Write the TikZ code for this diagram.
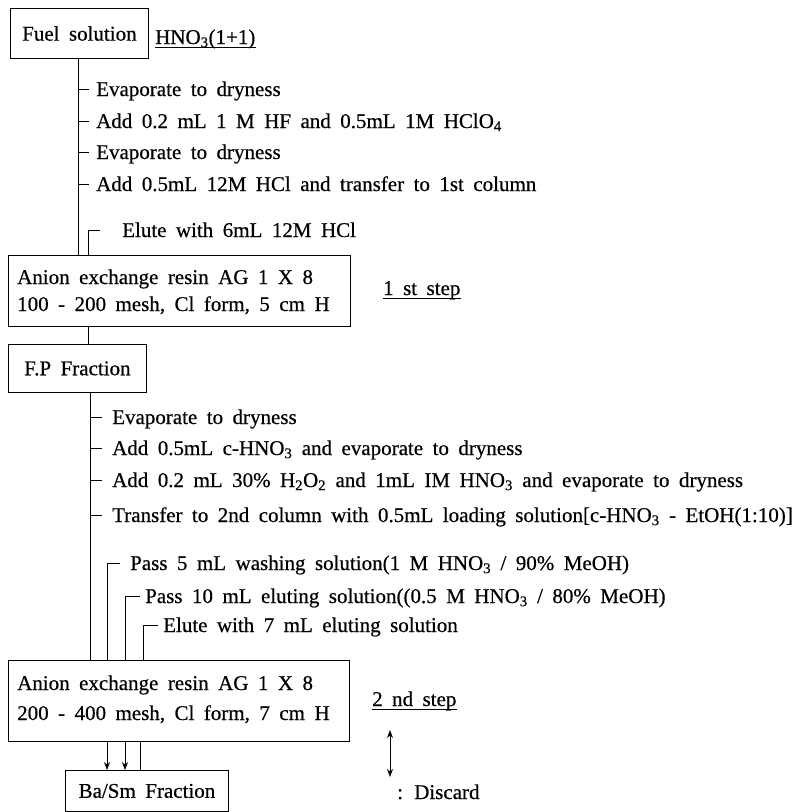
\documentclass[tikz,border=0pt]{standalone}
\usepackage{fontspec}
\setmainfont{Liberation Serif}[WordSpace=1.8,FakeBold=0.5]
\usetikzlibrary{arrows.meta}
\newcommand{\sbs}[1]{\textsubscript{#1}}
\begin{document}
\begin{tikzpicture}[x=1pt,y=-1pt,
  every node/.style={font=\fontsize{21}{27}\selectfont},
  box/.style={draw,line width=0.9pt,inner sep=0pt},
  lbl/.style={anchor=base west,inner sep=0pt},
  ln/.style={line width=0.9pt},
  arr/.style={line width=0.9pt,-{Stealth[length=8pt,width=6pt]}},
  darr/.style={line width=0.9pt,{Stealth[length=8pt,width=6pt]}-{Stealth[length=8pt,width=6pt]}}]
\useasboundingbox (0,0) rectangle (795,812);

% boxes
\node[box,anchor=north west,minimum width=138pt,minimum height=50pt] (fuel) at (10,8) {Fuel solution};
\node[box,anchor=north west,minimum width=342pt,minimum height=71pt] (col1) at (8,255) {};
\node[lbl] (col1a) at (17,284) {Anion exchange resin AG 1 X 8};
\node[lbl] (col1b) at (17,311) {100 - 200 mesh, Cl form, 5 cm H};
\node[box,anchor=north west,minimum width=138pt,minimum height=48pt] (fp) at (8,344) {F.P Fraction};
\node[box,anchor=north west,minimum width=341pt,minimum height=81pt] (col2) at (8,660) {};
\node[lbl] (col2a) at (17,690) {Anion exchange resin AG 1 X 8};
\node[lbl] (col2b) at (17,720) {200 - 400 mesh, Cl form, 7 cm H};
\node[box,anchor=north west,minimum width=163pt,minimum height=41pt] (basm) at (65,770) {Ba/Sm Fraction};

% x positions of the vertical lines
\coordinate (xa) at (78,0);
\coordinate (xb) at (88,0);
\coordinate (xc) at (90,0);
\coordinate (xd) at (107,0);
\coordinate (xe) at (125,0);
\coordinate (xf) at (143,0);
\coordinate (xg) at (140,0);

% side labels
\node[lbl] (hno) at (155,44) {HNO\sbs{3}(1+1)};
\draw[ln] ([yshift=-3pt]hno.base west) -- ([yshift=-3pt]hno.base east);
\node[lbl] (st1) at (383,295) {1 st step};
\draw[ln] ([yshift=-3pt]st1.base west) -- ([yshift=-3pt]st1.base east);
\node[lbl] (st2) at (372,706) {2 nd step};
\draw[ln] ([yshift=-3pt]st2.base west) -- ([yshift=-3pt]st2.base east);

% section 1
\draw[ln] (fuel.south -| xa) -- (col1.north -| xa);
\node[lbl] (a1) at (96,96) {Evaporate to dryness};
\node[lbl] (a2) at (96,128) {Add 0.2 mL 1 M HF and 0.5mL 1M HClO\sbs{4}};
\node[lbl] (a3) at (96,159) {Evaporate to dryness};
\node[lbl] (a4) at (96,191) {Add 0.5mL 12M HCl and transfer to 1st column};
\foreach \yy in {89,121,152,184} \draw[ln] (78,\yy) -- (89,\yy);
\node[lbl] (a5) at (122,237) {Elute with 6mL 12M HCl};
\coordinate (h1) at (88,230);
\draw[ln] (col1.north -| xb) -- (h1) -- ++(12,0);

\draw[ln] (col1.south -| xb) -- (fp.north -| xb);

% section 2
\draw[ln] (fp.south -| xc) -- (col2.north -| xc);
\node[lbl] (b1) at (112,424) {Evaporate to dryness};
\node[lbl] (b2) at (112,455) {Add 0.5mL c-HNO\sbs{3} and evaporate to dryness};
\node[lbl] (b3) at (112,487) {Add 0.2 mL 30\% H\sbs{2}O\sbs{2} and 1mL IM HNO\sbs{3} and evaporate to dryness};
\node[lbl] (b4) at (112,522) {Transfer to 2nd column with 0.5mL loading solution[c-HNO\sbs{3} - EtOH(1:10)]};
\foreach \yy in {417,448,480,515} \draw[ln] (90,\yy) -- (102,\yy);

\node[lbl] (p1) at (130,570) {Pass 5 mL washing solution(1 M HNO\sbs{3} / 90\% MeOH)};
\node[lbl] (p2) at (145,603) {Pass 10 mL eluting solution((0.5 M HNO\sbs{3} / 80\% MeOH)};
\node[lbl] (p3) at (163,632) {Elute with 7 mL eluting solution};
\draw[ln] (col2.north -| xd) -- (107,563) -- (120,563);
\draw[ln] (col2.north -| xe) -- (125,596) -- (140,596);
\draw[ln] (col2.north -| xf) -- (143,625) -- (158,625);

% outputs
\draw[arr] (col2.south -| xd) -- (basm.north -| xd);
\draw[arr] (col2.south -| xe) -- (basm.north -| xe);
\draw[ln] (col2.south -| xg) -- (basm.north -| xg);

% legend
\coordinate (lg1) at (390,730);
\coordinate (lg2) at (390,777);
\draw[darr] (lg1) -- (lg2);
\node[lbl] (disc) at (397,799) {: Discard};
\end{tikzpicture}
\end{document}
